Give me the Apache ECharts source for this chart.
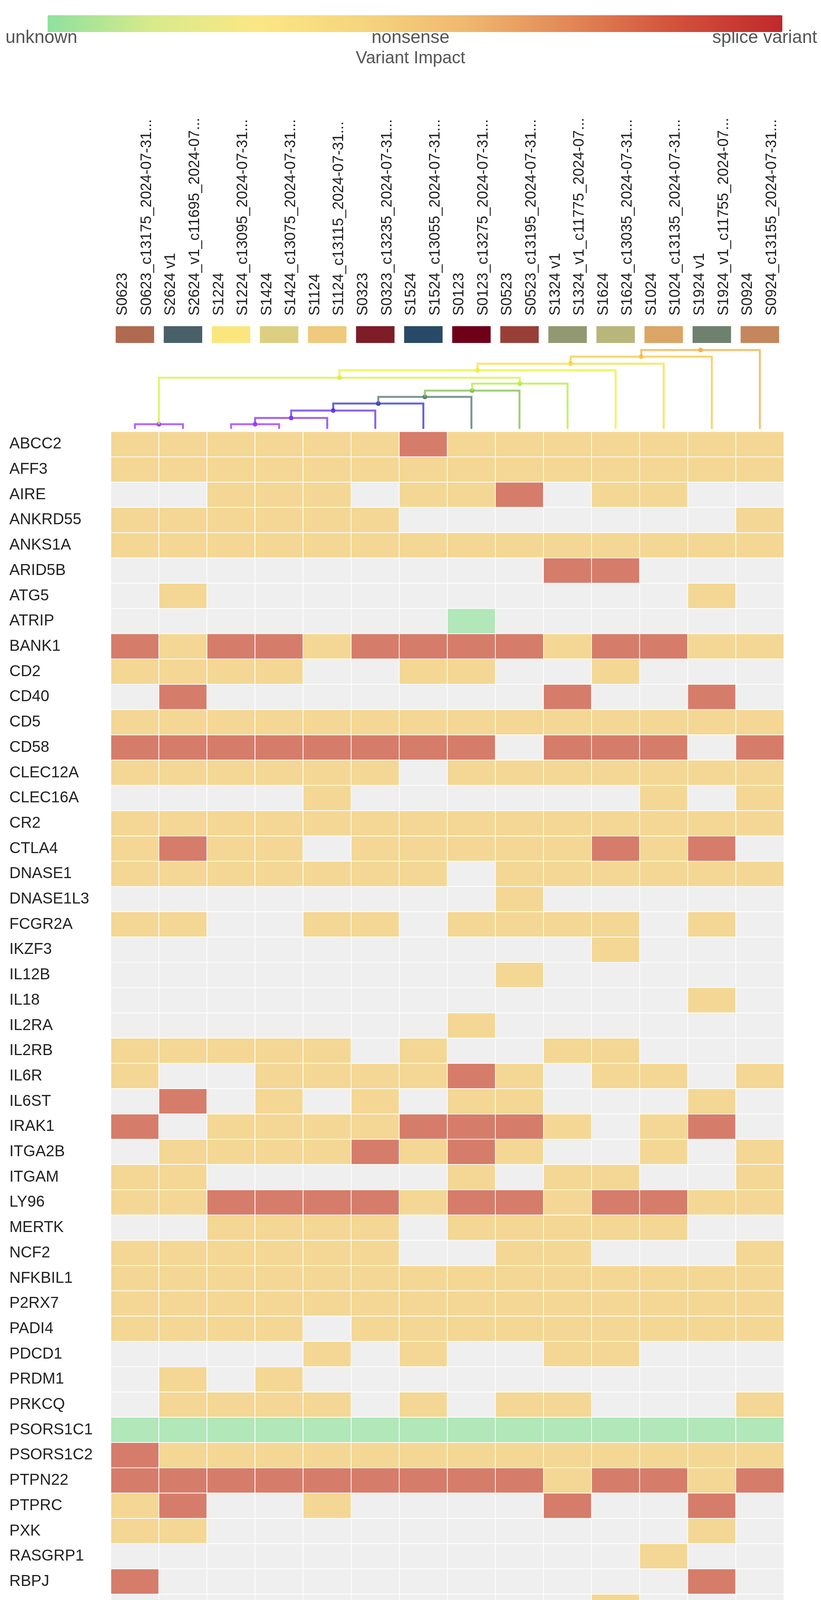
<!DOCTYPE html>
<html lang="en">
<head>
<meta charset="UTF-8">
<title>Variant Impact</title>
<script src="https://cdn.jsdelivr.net/npm/echarts@6/dist/echarts.min.js"></script>
<style>
html,body{margin:0;padding:0;background:#fff}
#chartBox{width:2103px;height:5465px}
</style>
</head>
<body>
<div id="chartBox"></div>
<script>
// samples (columns), in dendrogram order
const shortNames = ['S0623','S2624 v1','S1224','S1424','S1124','S0323','S1524','S0123','S0523','S1324 v1','S1624','S1024','S1924 v1','S0924'];
const longNames = ['S0623_c13175_2024-07-31...','S2624_v1_c11695_2024-07...','S1224_c13095_2024-07-31...','S1424_c13075_2024-07-31...',
  'S1124_c13115_2024-07-31...','S0323_c13235_2024-07-31...','S1524_c13055_2024-07-31...','S0123_c13275_2024-07-31...',
  'S0523_c13195_2024-07-31...','S1324_v1_c11775_2024-07...','S1624_c13035_2024-07-31...','S1024_c13135_2024-07-31...',
  'S1924_v1_c11755_2024-07...','S0924_c13155_2024-07-31...'];
const sampleColors = ['#b06a50','#4a6068','#fbe67e','#dccf82','#efc97c','#7e1c28','#284a68','#6e0018','#984038','#929872','#b9b67c','#dca566','#6e806e','#c4865a'];

// 0 = no variant, 1 = unknown, 2 = moderate, 3 = high impact
const genes = ['ABCC2','AFF3','AIRE','ANKRD55','ANKS1A','ARID5B','ATG5','ATRIP','BANK1','CD2','CD40','CD5','CD58','CLEC12A','CLEC16A',
  'CR2','CTLA4','DNASE1','DNASE1L3','FCGR2A','IKZF3','IL12B','IL18','IL2RA','IL2RB','IL6R','IL6ST','IRAK1','ITGA2B','ITGAM',
  'LY96','MERTK','NCF2','NFKBIL1','P2RX7','PADI4','PDCD1','PRDM1','PRKCQ','PSORS1C1','PSORS1C2','PTPN22','PTPRC','PXK','RASGRP1',
  'RBPJ','RCAN1','REL','RUNX1','SAMD9L','SFTPD','SLC11A1','SLC22A4','SLC5A11','SMAD3','STAT3','TAGAP','THBS1','TLR2','TLR5',
  'TLR7','TNFRSF14','TNFSF4','TRAF1','TRAP1','TREX1','TYK2'];
const impact = [
  [2,2,2,2,2,2,3,2,2,2,2,2,2,2],
  [2,2,2,2,2,2,2,2,2,2,2,2,2,2],
  [0,0,2,2,2,0,2,2,3,0,2,2,0,0],
  [2,2,2,2,2,2,0,0,0,0,0,0,0,2],
  [2,2,2,2,2,2,2,2,2,2,2,2,2,2],
  [0,0,0,0,0,0,0,0,0,3,3,0,0,0],
  [0,2,0,0,0,0,0,0,0,0,0,0,2,0],
  [0,0,0,0,0,0,0,1,0,0,0,0,0,0],
  [3,2,3,3,2,3,3,3,3,2,3,3,2,2],
  [2,2,2,2,0,0,2,2,0,0,2,0,0,0],
  [0,3,0,0,0,0,0,0,0,3,0,0,3,0],
  [2,2,2,2,2,2,2,2,2,2,2,2,2,2],
  [3,3,3,3,3,3,3,3,0,3,3,3,0,3],
  [2,2,2,2,2,2,0,2,2,2,2,2,2,2],
  [0,0,0,0,2,0,0,0,0,0,0,2,0,2],
  [2,2,2,2,2,2,2,2,2,2,2,2,2,2],
  [2,3,2,2,0,2,2,2,2,2,3,2,3,0],
  [2,2,2,2,2,2,2,0,2,2,2,2,2,2],
  [0,0,0,0,0,0,0,0,2,0,0,0,0,0],
  [2,2,0,0,2,2,0,2,2,2,2,0,2,0],
  [0,0,0,0,0,0,0,0,0,0,2,0,0,0],
  [0,0,0,0,0,0,0,0,2,0,0,0,0,0],
  [0,0,0,0,0,0,0,0,0,0,0,0,2,0],
  [0,0,0,0,0,0,0,2,0,0,0,0,0,0],
  [2,2,2,2,2,0,2,0,0,2,2,0,0,0],
  [2,0,0,2,2,2,2,3,2,0,2,2,0,2],
  [0,3,0,2,0,2,0,2,2,0,0,0,2,0],
  [3,0,2,2,2,2,3,3,3,2,0,2,3,0],
  [0,2,2,2,2,3,2,3,2,0,0,2,0,2],
  [2,2,0,0,0,0,0,2,0,2,2,0,0,2],
  [2,2,3,3,3,3,2,3,3,2,3,3,2,2],
  [0,0,2,2,2,2,0,2,2,2,2,2,0,0],
  [2,2,2,2,2,2,0,0,2,2,0,0,0,2],
  [2,2,2,2,2,2,2,2,2,2,2,2,2,2],
  [2,2,2,2,2,2,2,2,2,2,2,2,2,2],
  [2,2,2,2,0,2,2,2,2,2,2,2,2,2],
  [0,0,0,0,2,0,2,0,0,2,2,0,0,0],
  [0,2,0,2,0,0,0,0,0,0,0,0,0,0],
  [0,2,2,2,2,0,2,0,2,2,0,0,0,2],
  [1,1,1,1,1,1,1,1,1,1,1,1,1,1],
  [3,2,2,2,2,2,2,2,2,2,2,2,2,2],
  [3,3,3,3,3,3,3,3,3,2,3,3,2,3],
  [2,3,0,0,2,0,0,0,0,3,0,0,3,0],
  [2,2,0,0,0,0,0,0,0,0,0,0,2,0],
  [0,0,0,0,0,0,0,0,0,0,0,2,0,0],
  [3,0,0,0,0,0,0,0,0,0,0,0,3,0],
  [0,0,0,0,0,0,0,0,0,0,2,0,0,0],
  [0,0,0,0,0,0,0,0,0,0,0,0,3,0],
  [0,0,0,0,0,0,0,0,0,0,0,2,0,0],
  [3,2,3,3,3,3,3,3,0,3,2,0,3,0],
  [2,2,2,2,2,0,2,2,2,0,2,2,0,2],
  [2,0,0,0,0,0,0,0,0,2,2,0,0,0],
  [2,2,2,0,2,2,2,2,0,2,0,0,2,0],
  [2,2,2,3,2,2,2,3,2,2,0,2,0,0],
  [0,0,3,0,0,0,3,0,0,3,0,2,3,0],
  [0,0,0,0,0,0,0,0,0,3,0,0,0,0],
  [0,0,0,0,0,2,0,0,2,0,0,0,0,2],
  [0,0,0,2,2,2,2,0,2,0,0,0,0,0],
  [0,0,0,0,0,0,0,2,0,0,0,3,0,3],
  [2,2,2,2,2,2,2,2,2,2,2,2,2,2],
  [0,0,0,0,0,0,2,0,2,0,0,2,0,2],
  [0,0,2,2,2,2,2,2,2,2,2,0,2,2],
  [0,3,0,0,0,0,0,0,2,0,0,0,0,0],
  [0,0,0,0,0,0,0,0,0,0,2,2,0,0],
  [1,1,1,1,1,1,1,0,1,1,1,1,1,1],
  [0,0,0,0,0,0,0,3,0,0,0,0,0,0],
  [2,0,0,0,2,2,2,2,0,3,2,0,0,0]
];

// dendrogram merges: [left, right, height, colour]; numbers are leaves, 'mN' are earlier merges
const merges = [
  [0, 1, 12, '#a040ff'],
  [2, 3, 12, '#a040ff'],
  ['m1', 4, 28, '#8a3cf0'],
  ['m2', 5, 47, '#6a3ce8'],
  ['m3', 6, 65, '#3c3cd8'],
  ['m4', 7, 82, '#5a7a78'],
  ['m5', 8, 98, '#88c058'],
  ['m6', 9, 116, '#b8ec48'],
  ['m0', 'm7', 131, '#d8f048'],
  ['m8', 10, 150, '#eef040'],
  ['m9', 11, 167, '#f8e040'],
  ['m10', 12, 185, '#f8c848'],
  ['m11', 13, 202, '#f8b048']
];

const legendColors = ['#8fe0a0','#d8ea8a','#fbe784','#f5d57e','#efb86e','#e28656','#d2503c','#c0282a'];

// build dendrogram segments
const nodePos = [];
const dendroData = merges.map((m, i) => {
  const pos = r => typeof r === 'number' ? [r + 0.5, 0] : nodePos[+r.slice(1)];
  const a = pos(m[0]), b = pos(m[1]);
  nodePos[i] = [(a[0] + b[0]) / 2, m[2]];
  return [a[0], a[1], b[0], b[1], m[2], i];
});

const cells = [];
genes.forEach((g, r) => impact[r].forEach((v, c) => cells.push([c, r, v])));

const L = 284, W = 1724;
const chartObj = echarts.init(document.getElementById('chartBox'));
const font = 'Liberation Sans, Arial, sans-serif';

chartObj.setOption({
  animation: false,
  textStyle: {fontFamily: font},
  grid: [
    {left: L, top: 1105, width: W, height: 4335},
    {left: L, top: 835, width: W, height: 43},
    {left: L, top: 810, width: W, height: 10},
    {left: L, top: 892, width: W, height: 206}
  ],
  xAxis: [
    {gridIndex: 0, type: 'category', data: shortNames, show: false},
    {gridIndex: 1, type: 'category', data: shortNames, show: false},
    {gridIndex: 2, type: 'category', position: 'top',
      data: shortNames.flatMap((s, i) => [s, longNames[i]]),
      axisLine: {show: false}, axisTick: {show: false},
      axisLabel: {interval: 0, rotate: 90, fontSize: 38, color: '#222', margin: 2, fontFamily: font}},
    {gridIndex: 3, type: 'value', min: 0, max: 14, show: false}
  ],
  yAxis: [
    {gridIndex: 0, type: 'category', data: genes, inverse: true,
      axisLine: {show: false}, axisTick: {show: false},
      axisLabel: {align: 'left', margin: 260, fontSize: 40, color: '#222', fontFamily: font}},
    {gridIndex: 1, type: 'value', min: 0, max: 1, show: false},
    {gridIndex: 2, type: 'value', show: false},
    {gridIndex: 3, type: 'value', min: 0, max: 206, show: false}
  ],
  visualMap: [
    {type: 'continuous', min: 0, max: 1, seriesIndex: 4, calculable: false, orient: 'horizontal',
      left: 107, top: 24, itemWidth: 43, itemHeight: 1882, text: ['', ''], showLabel: false,
      inRange: {color: legendColors}},
    {type: 'piecewise', show: false, seriesIndex: 0, dimension: 2,
      pieces: [{value: 0, color: '#efefef'}, {value: 1, color: '#b1e7b9'},
               {value: 2, color: '#f4d794'}, {value: 3, color: '#d67c6a'}]}
  ],
  graphic: [
    {type: 'text', left: 14, top: 74, style: {text: 'unknown', fontSize: 46, fill: '#555', fontFamily: font}},
    {type: 'text', left: 'center', top: 74, style: {text: 'nonsense', fontSize: 46, fill: '#555', fontFamily: font}},
    {type: 'text', right: 10, top: 74, style: {text: 'splice variant', fontSize: 46, fill: '#555', fontFamily: font}},
    {type: 'text', left: 'center', top: 128, style: {text: 'Variant Impact', fontSize: 44, fill: '#555', fontFamily: font}}
  ],
  series: [
    {type: 'heatmap', xAxisIndex: 0, yAxisIndex: 0, data: cells,
      itemStyle: {borderColor: '#fff', borderWidth: 2}},
    {type: 'bar', xAxisIndex: 1, yAxisIndex: 1, barWidth: '80%',
      data: sampleColors.map(c => ({value: 1, itemStyle: {color: c}}))},
    {type: 'custom', xAxisIndex: 3, yAxisIndex: 3, data: dendroData,
      renderItem: function (params, api) {
        const a0 = api.coord([api.value(0), api.value(1)]);
        const b0 = api.coord([api.value(2), api.value(3)]);
        const a1 = api.coord([api.value(0), api.value(4)]);
        const b1 = api.coord([api.value(2), api.value(4)]);
        const color = merges[api.value(5)][3];
        return {type: 'group', children: [
          {type: 'polyline', shape: {points: [a0, a1, b1, b0]},
            style: {stroke: color, lineWidth: 5, fill: null, opacity: 0.8}},
          {type: 'circle', shape: {cx: (a1[0] + b1[0]) / 2, cy: a1[1], r: 6},
            style: {fill: color}}
        ]};
      }},
    {type: 'bar', xAxisIndex: 2, yAxisIndex: 2, data: []},
    {type: 'heatmap', xAxisIndex: 0, yAxisIndex: 0, data: []}
  ]
});
</script>
</body>
</html>
